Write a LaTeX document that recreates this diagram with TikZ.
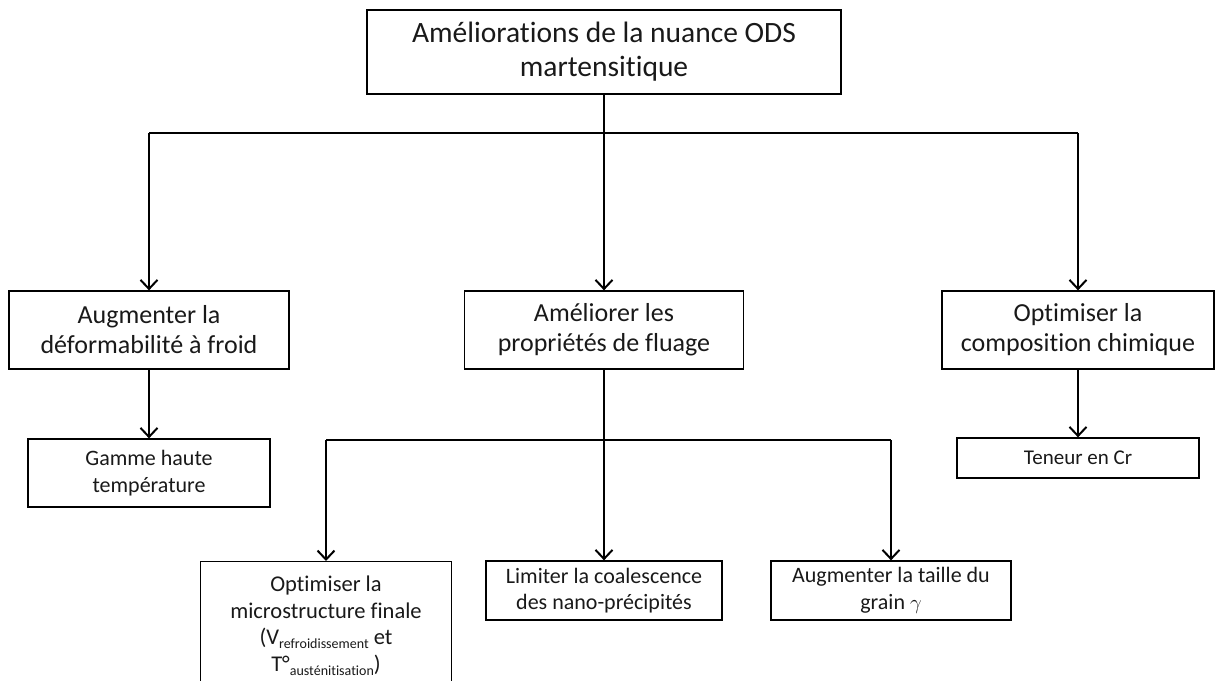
\documentclass[tikz,border=0pt]{standalone}
\usepackage{fontspec}
\setmainfont{Carlito}[Ligatures=NoCommon]
\usetikzlibrary{arrows.meta}
\newcommand\mysub[1]{\raisebox{-0.35ex}{\fontsize{14}{14}\selectfont #1}}
\begin{document}
\begin{tikzpicture}[x=1pt,y=-1pt,
  box/.style={draw, line width=1.3pt, inner sep=0pt, align=center, text=black!90},
  big/.style={box, font=\fontsize{29.5}{34}\selectfont},
  mid/.style={box, font=\fontsize{26}{30}\selectfont},
  small/.style={box, font=\fontsize{22}{26.5}\selectfont},
  conn/.style={line width=2pt},
  arr/.style={line width=2pt, -{Straight Barb[length=9pt,width=17pt,line width=2pt]}}]
\useasboundingbox (0,0) rectangle (1215,680);
\node[big, minimum width=474pt, minimum height=84pt] (top) at (604,52) {Améliorations de la nuance ODS\\martensitique};
\node[mid, minimum width=280pt, minimum height=78pt] (A) at (149,330) {Augmenter la\\déformabilité à froid};
\node[mid, minimum width=279pt, minimum height=78pt] (B) at (604,330) {Améliorer les\\propriétés de fluage};
\node[mid, minimum width=272pt, minimum height=78pt] (C) at (1078,330) {Optimiser la\\composition chimique};
\node[small, minimum width=242pt, minimum height=68pt] (gamme) at (149,473) {Gamme haute\\température};
\node[small, minimum width=242pt, minimum height=40pt, font=\fontsize{21}{26}\selectfont] (teneur) at (1078,458) {Teneur en Cr};
\node[small, minimum width=251pt, minimum height=128pt, anchor=north, font=\fontsize{22.5}{26.5}\selectfont] (micro) at (326,561) {Optimiser la\\microstructure finale\\(V\mysub{refroidissement} et\\T°\mysub{austénitisation})};
\node[small, minimum width=236pt, minimum height=59pt] (limiter) at (604,590.5) {Limiter la coalescence\\des nano-précipités};
\node[small, minimum width=240pt, minimum height=59pt] (grain) at (891,590.5) {Augmenter la taille du\\grain $\gamma$};
\coordinate (h1) at (0,133);
\coordinate (h2) at (0,440);
\draw[conn] (top.south) -- (top.south |- h1);
\draw[conn] (A.north |- h1) -- (C.north |- h1);
\draw[arr] (A.north |- h1) -- (A.north);
\draw[arr] (B.north |- h1) -- (B.north);
\draw[arr] (C.north |- h1) -- (C.north);
\draw[arr] (A.south) -- (gamme.north);
\draw[arr] (C.south) -- (teneur.north);
\draw[conn] (B.south) -- (B.south |- h2);
\draw[conn] (micro.north |- h2) -- (grain.north |- h2);
\draw[arr] (micro.north |- h2) -- (micro.north);
\draw[arr] (limiter.north |- h2) -- (limiter.north);
\draw[arr] (grain.north |- h2) -- (grain.north);
\end{tikzpicture}
\end{document}
